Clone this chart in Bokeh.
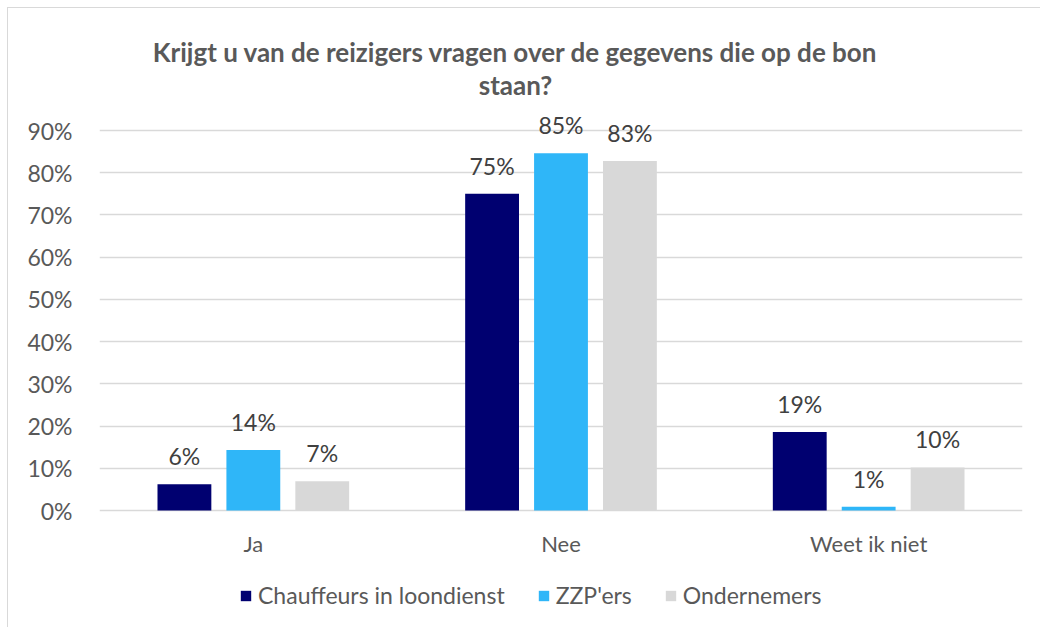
from bokeh.plotting import figure
from bokeh.models import (ColumnDataSource, FactorRange, Range1d, LabelSet, Label,
                          Legend, LegendItem, FixedTicker, PrintfTickFormatter)
from bokeh.transform import dodge
from bokeh.core.properties import value
from bokeh.embed import file_html
from bokeh.resources import INLINE

categories = ["Ja", "Nee", "Weet ik niet"]
series_names = ["Chauffeurs in loondienst", "ZZP'ers", "Ondernemers"]
chauffeurs = [6.2, 75.0, 18.6]
zzp = [14.3, 84.6, 0.9]
ondernemers = [6.9, 82.8, 10.2]
y_ticks = [0, 10, 20, 30, 40, 50, 60, 70, 80, 90]
title_lines = ["Krijgt u van de reizigers vragen over de gegevens die op de bon", "staan?"]

colors = ["#000070", "#2FB6F8", "#D8D8D8"]
FONT = "Lato"

def pct(vals):
    return ["%d%%" % round(v) for v in vals]

src = ColumnDataSource(data=dict(
    cat=categories,
    chauffeurs=chauffeurs, zzp=zzp, ondernemers=ondernemers,
    l_chauffeurs=pct(chauffeurs), l_zzp=pct(zzp), l_ondernemers=pct(ondernemers),
))

# frame spans the full height; 0..90 occupies 380 px, extra room above and below
# for the title, the category labels and the legend
PX = 380 / 90.0
p = figure(x_range=FactorRange(*categories, range_padding=0),
           y_range=Range1d(-116 / PX, 502 / PX),
           x_axis_location=None,
           width=1033, height=620, output_backend="svg", toolbar_location=None,
           min_border_left=91, min_border_right=19, min_border_top=0, min_border_bottom=2)
p.styles = {"margin-left": "7px", "margin-top": "7px",
            "border-left": "1px solid #d9d9d9", "border-top": "1px solid #d9d9d9"}
p.outline_line_color = None
p.background_fill_color = "white"
p.border_fill_color = "white"

offsets = [-0.224, 0.0, 0.224]
fields = ["chauffeurs", "zzp", "ondernemers"]
renderers = []
for f, off, c in zip(fields, offsets, colors):
    r = p.vbar(x=dodge("cat", off, range=p.x_range), top=f, width=0.175, source=src,
               fill_color=c, line_color=None)
    renderers.append(r)
    ls = LabelSet(x=dodge("cat", off, range=p.x_range), y=f, text="l_" + f, source=src,
                  text_align="center", text_baseline="alphabetic", y_offset=19,
                  text_font=value(FONT), text_font_size="23px", text_color="#404040")
    p.add_layout(ls)

# category labels under the zero line
p.add_layout(LabelSet(x="cat", y=0, text="cat", source=src, text_align="center",
                      text_baseline="middle", y_offset=-33,
                      text_font=value(FONT), text_font_size="22px", text_color="#595959"))

# y axis
p.yaxis.ticker = FixedTicker(ticks=y_ticks)
p.yaxis.formatter = PrintfTickFormatter(format="%d%%")
p.yaxis.axis_line_color = None
p.yaxis.major_tick_line_color = None
p.yaxis.minor_tick_line_color = None
p.yaxis.major_tick_out = 0
p.yaxis.major_tick_in = 0
p.yaxis.major_label_standoff = 27
p.yaxis.major_label_text_font = FONT
p.yaxis.major_label_text_font_size = "23px"
p.yaxis.major_label_text_color = "#595959"

p.xgrid.grid_line_color = None
p.ygrid.grid_line_color = "#d9d9d9"
p.ygrid.grid_line_width = 1.5
p.ygrid.ticker = FixedTicker(ticks=y_ticks)

# title: two centered lines
for txt, dy in zip(title_lines, [459, 426]):
    p.add_layout(Label(x=1.352, y=dy / PX, text=txt, text_align="center",
                       text_baseline="middle", text_font=FONT, text_font_style="bold",
                       text_font_size="26px", text_color="#595959"))

legend = Legend(items=[LegendItem(label=n, renderers=[r]) for n, r in zip(series_names, renderers)],
                orientation="horizontal", location=(140, 17),
                glyph_width=13, glyph_height=13, label_standoff=6, spacing=32,
                padding=0, margin=0, border_line_color=None, background_fill_alpha=0,
                label_text_font=FONT, label_text_font_size="23px", label_text_color="#595959")
p.add_layout(legend, "center")

open("out.html", "w").write(file_html(p, INLINE))
